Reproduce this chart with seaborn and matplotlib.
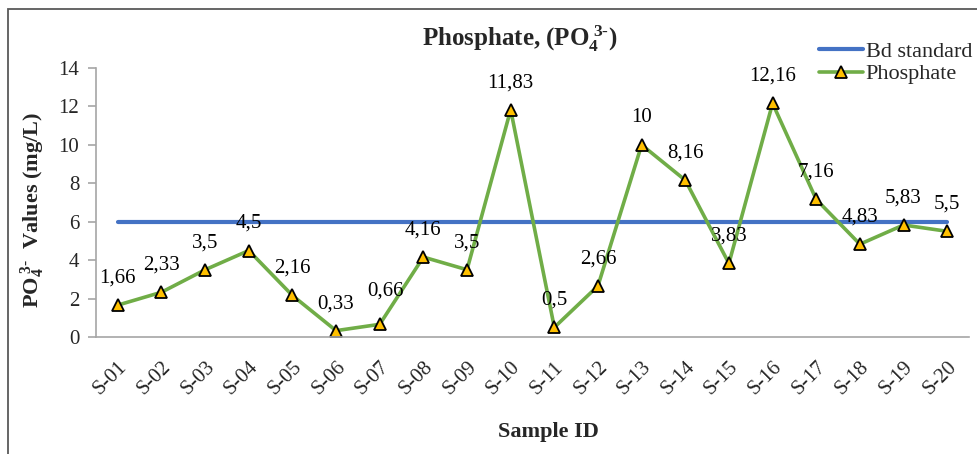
import numpy as np
import pandas as pd
import matplotlib
matplotlib.use('Agg')
import matplotlib.pyplot as plt
from matplotlib.patches import Rectangle
import seaborn as sns

# Data
samples = ['S-01', 'S-02', 'S-03', 'S-04', 'S-05', 'S-06', 'S-07', 'S-08', 'S-09', 'S-10',
           'S-11', 'S-12', 'S-13', 'S-14', 'S-15', 'S-16', 'S-17', 'S-18', 'S-19', 'S-20']
phosphate = [1.66, 2.33, 3.5, 4.5, 2.16, 0.33, 0.66, 4.16, 3.5, 11.83,
             0.5, 2.66, 10, 8.16, 3.83, 12.16, 7.16, 4.83, 5.83, 5.5]
bd_standard = [6, 6, 6, 6, 6, 6, 6, 6, 6, 6, 6, 6, 6, 6, 6, 6, 6, 6, 6, 6]
y_ticks = [0, 2, 4, 6, 8, 10, 12, 14]

df = pd.DataFrame({'Sample ID': samples, 'Phosphate': phosphate, 'Bd standard': bd_standard})

sns.set_theme(style='white')
plt.rcParams['font.family'] = ['Liberation Serif', 'DejaVu Serif']
plt.rcParams['mathtext.fontset'] = 'custom'
plt.rcParams['mathtext.rm'] = 'Liberation Serif:bold'
plt.rcParams['mathtext.bf'] = 'Liberation Serif:bold'
plt.rcParams['mathtext.it'] = 'Liberation Serif:italic'

W, H = 977, 454
fig = plt.figure(figsize=(W / 100, H / 100), dpi=100)
ax = fig.add_axes([96 / W, 1 - 337 / H, 873 / W, (337 - 68) / H])

sns.lineplot(data=df, x='Sample ID', y='Bd standard', ax=ax, color='#4472C4',
             linewidth=3, label='Bd standard')
sns.lineplot(data=df, x='Sample ID', y='Phosphate', ax=ax, color='#70AD47',
             linewidth=2.6, marker='^', markersize=8, markerfacecolor='#FFC000',
             markeredgecolor='black', markeredgewidth=1.3, label='Phosphate')

# data labels
for i, v in enumerate(phosphate):
    txt = f'{v:g}'.replace('.', ',')
    dx, dy = (4, 24) if samples[i] == 'S-07' else (0, 19.5)
    ax.annotate(txt, (i, v), xytext=(dx, dy), textcoords='offset points',
                ha='center', va='center', fontsize=15, color='black')

ax.set_xlim(-0.5, len(samples) - 0.5)
ax.set_ylim(0, 14)
ax.set_yticks(y_ticks)
ax.set_yticklabels([str(t) for t in y_ticks], fontsize=15)

ax.set_xticks(range(len(samples)))
ax.set_xticklabels(samples, rotation=45, ha='right', rotation_mode='anchor', fontsize=15)
ax.set_xticks(np.arange(-0.5, len(samples), 1), minor=True)
ax.tick_params(axis='x', which='major', length=0, pad=15)
ax.tick_params(axis='x', which='minor', length=6, width=1.2, color='#A6A6A6', direction='out')
ax.tick_params(axis='y', length=6, width=1.2, color='#A6A6A6', direction='out', pad=6, left=True)

for s in ['top', 'right']:
    ax.spines[s].set_visible(False)
for s in ['left', 'bottom']:
    ax.spines[s].set_color('#A6A6A6')
    ax.spines[s].set_linewidth(1.2)

ax.set_xlabel('')
ax.set_ylabel('')
fig.text(548 / W, 1 - 432 / H, 'Sample ID', ha='center', va='center',
         fontsize=16, fontweight='bold')
fig.text(33 / W, 1 - 210 / H, r'PO$_{4}^{\ 3\text{-}}$  Values (mg/L)', rotation=90,
         ha='center', va='center', fontsize=16, fontweight='bold')
fig.text(520 / W, 1 - 39 / H, r'Phosphate, (PO$_{4}^{\ 3\text{-}}$)', ha='center',
         va='center', fontsize=18, fontweight='bold')

ax.get_legend().remove()
handles, labels = ax.get_legend_handles_labels()
fig.legend(handles, labels, loc='upper right', bbox_to_anchor=(983 / W, 1 - 30 / H),
           frameon=False, fontsize=16, handlelength=2.0, handletextpad=0.1,
           labelspacing=0.1, borderpad=0)

# chart border (top and left visible in the crop)
fig.add_artist(Rectangle((8 / W, -0.2), 1.5, 1.2 - 9 / H, transform=fig.transFigure,
                         fill=False, edgecolor='#595959', linewidth=1.3))

fig.savefig('out.png', dpi=100)
